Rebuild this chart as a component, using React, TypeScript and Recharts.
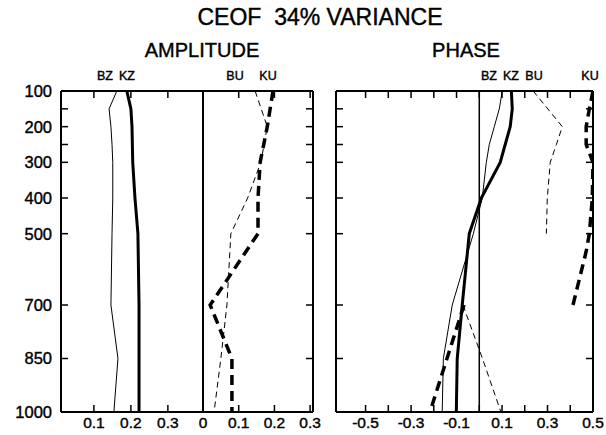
import React from 'react';
import { LineChart, Line, XAxis, YAxis, ReferenceLine } from 'recharts';

const FONT = '"Liberation Sans", Arial, Helvetica, sans-serif';

// pressure levels (hPa)
const levels = [100, 150, 200, 250, 300, 400, 500, 700, 850, 1000];
const levelLabels = ['100', '', '200', '', '300', '400', '500', '700', '850', '1000'];

// AMPLITUDE – Z
const ampBZ = [0.162, 0.141, 0.146, 0.149, 0.151, 0.151, 0.149, 0.146, 0.165, 0.154];
const ampKZ = [0.189, 0.2, 0.203, 0.204, 0.205, 0.211, 0.219, 0.222, 0.222, 0.222];
// AMPLITUDE – U
const ampULevels = [100, 200, 300, 400, 500, 700, 850, 1000];
const ampBU = [0.146, 0.18, 0.162, 0.125, 0.078, 0.067, 0.05, 0.031];
const ampKU = [0.196, 0.18, 0.16, 0.154, 0.154, 0.02, 0.081, 0.081];

// PHASE
const phaseBZ = [0.101, 0.088, 0.066, 0.044, 0.031, 0.013, -0.026, -0.119, -0.158, -0.163];
const phaseKZ = [0.141, 0.145, 0.136, 0.114, 0.092, 0.009, -0.044, -0.075, -0.097, -0.101];
const phaseBUUpperLevels = [100, 200, 250, 300, 400, 500];
const phaseBUUpper = [0.237, 0.365, 0.339, 0.312, 0.299, 0.295];
const phaseBULowerLevels = [700, 850, 1000];
const phaseBULower = [-0.072, 0.014, 0.095];
const phaseKUUpperLevels = [100, 150, 200, 250, 300, 400, 500, 550, 700];
const phaseKUUpper = [0.5, 0.484, 0.47, 0.47, 0.5, 0.497, 0.484, 0.47, 0.412];
const phaseKULowerLevels = [700, 850, 1000];
const phaseKULower = [-0.067, -0.142, -0.217];

// x ticks
const ampZTicks = [0.1, 0.2, 0.3];
const ampZLabels = ['0.1', '0.2', '0.3'];
const ampUTicks = [0, 0.1, 0.2, 0.3];
const ampULabels = ['0', '0.1', '0.2', '0.3'];
const phaseTicks = [-0.5, -0.4, -0.3, -0.2, -0.1, 0, 0.1, 0.2, 0.3, 0.4, 0.5];
const phaseLabels = ['-0.5', '', '-0.3', '', '-0.1', '', '0.1', '', '0.3', '', '0.5'];

const ampZDomain: [number, number] = [0.011, 0.395];
const ampUDomain: [number, number] = [0, 0.308];
const phaseDomain: [number, number] = [-0.63, 0.5];
const levelDomain: [number, number] = [100, 1000];

const rows = (ps: number[], vs: number[]) => ps.map((p, i) => ({ p, v: vs[i] }));
const fmt = (ticks: number[], labels: string[]) => (v: number) => {
  const i = ticks.findIndex((t) => Math.abs(t - v) < 1e-9);
  return i >= 0 ? labels[i] : '';
};
const blank = () => '';

const axisLine = { stroke: '#000', strokeWidth: 2 };
const tickLine = { stroke: '#000', strokeWidth: 1.5 };
const xTickStyle = { fill: '#000', fontSize: 15.5, fontFamily: FONT, stroke: '#000', strokeWidth: 0.4 };
const yTickStyle = { ...xTickStyle, fontSize: 16.5 };

const thin = { stroke: '#000', strokeWidth: 1, dot: false, isAnimationActive: false, type: 'linear' as const };
const thick = { stroke: '#000', strokeWidth: 3, dot: false, isAnimationActive: false, type: 'linear' as const };
const thinDash = { ...thin, strokeDasharray: '6 4' };
const thickDash = { ...thick, strokeWidth: 3.5, strokeDasharray: '10 6' };

const TOP = 90;
const BOTTOM_AXIS_H = 20;
const H = 435;
const BOTTOM_MARGIN = H - 412 - BOTTOM_AXIS_H;

function xAxes(domain: [number, number], ticks: number[], labels: string[]) {
  return [
    <XAxis
      key="b"
      xAxisId="b"
      type="number"
      orientation="bottom"
      domain={domain}
      allowDataOverflow
      ticks={ticks}
      interval={0}
      tickFormatter={fmt(ticks, labels)}
      height={BOTTOM_AXIS_H}
      tickSize={-7}
      tickMargin={12}
      axisLine={axisLine}
      tickLine={tickLine}
      tick={xTickStyle}
    />,
    <XAxis
      key="t"
      xAxisId="t"
      type="number"
      orientation="top"
      domain={domain}
      allowDataOverflow
      ticks={ticks}
      interval={0}
      tickFormatter={blank}
      height={1}
      tickSize={-7}
      axisLine={axisLine}
      tickLine={tickLine}
      tick={xTickStyle}
    />,
  ];
}

function yAxis(id: string, orientation: 'left' | 'right', width: number, withLabels: boolean) {
  return (
    <YAxis
      key={id}
      yAxisId={id}
      orientation={orientation}
      type="number"
      dataKey="p"
      domain={levelDomain}
      allowDataOverflow
      ticks={levels}
      interval={0}
      tickFormatter={withLabels ? fmt(levels, levelLabels) : blank}
      width={width}
      tickSize={-7}
      tickMargin={16}
      axisLine={axisLine}
      tickLine={tickLine}
      tick={yTickStyle}
    />
  );
}

const textBase: React.CSSProperties = {
  position: 'absolute',
  fontFamily: FONT,
  color: '#000',
  whiteSpace: 'pre',
  textAlign: 'center',
  lineHeight: 1,
  WebkitTextStroke: '0.4px #000',
};

function Label({ x, y, size, text }: { x: number; y: number; size: number; text: string }) {
  return (
    <div style={{ ...textBase, left: x - 150, top: y, width: 300, fontSize: size }}>{text}</div>
  );
}

export default function App() {
  return (
    <div style={{ position: 'absolute', left: 0, top: 0, width: 606, height: 435, background: '#fff', overflow: 'hidden' }}>
      <Label x={320} y={6} size={23} text="CEOF  34% VARIANCE" />
      <Label x={202} y={40} size={20} text="AMPLITUDE" />
      <Label x={466} y={40} size={20} text="PHASE" />

      <Label x={105} y={70} size={12.5} text="BZ" />
      <Label x={127} y={70} size={12.5} text="KZ" />
      <Label x={235} y={70} size={12.5} text="BU" />
      <Label x={268} y={70} size={12.5} text="KU" />
      <Label x={489} y={70} size={12.5} text="BZ" />
      <Label x={511} y={70} size={12.5} text="KZ" />
      <Label x={534} y={70} size={12.5} text="BU" />
      <Label x={590} y={70} size={12.5} text="KU" />

      {/* Amplitude: Z part */}
      <div style={{ position: 'absolute', left: 0, top: 0 }}>
        <LineChart width={210} height={H} layout="vertical" margin={{ top: TOP, right: 7, bottom: BOTTOM_MARGIN, left: 0 }}>
          {xAxes(ampZDomain, ampZTicks, ampZLabels)}
          {yAxis('l', 'left', 61, true)}
          <ReferenceLine xAxisId="b" yAxisId="l" x={ampZDomain[1]} stroke="#000" strokeWidth={2} />
          <Line {...thin} xAxisId="b" yAxisId="l" data={rows(levels, ampBZ)} dataKey="v" />
          <Line {...thick} xAxisId="b" yAxisId="l" data={rows(levels, ampKZ)} dataKey="v" />
        </LineChart>
      </div>

      {/* Amplitude: U part */}
      <div style={{ position: 'absolute', left: 180, top: 0 }}>
        <LineChart width={143} height={H} layout="vertical" margin={{ top: TOP, right: 0, bottom: BOTTOM_MARGIN, left: 23 }}>
          {xAxes(ampUDomain, ampUTicks, ampULabels)}
          {yAxis('r', 'right', 10, false)}
          <Line {...thinDash} xAxisId="b" yAxisId="r" data={rows(ampULevels, ampBU)} dataKey="v" />
          <Line {...thickDash} xAxisId="b" yAxisId="r" data={rows(ampULevels, ampKU)} dataKey="v" />
        </LineChart>
      </div>

      {/* Phase */}
      <div style={{ position: 'absolute', left: 320, top: 0 }}>
        <LineChart width={290} height={H} layout="vertical" margin={{ top: TOP, right: 7, bottom: BOTTOM_MARGIN, left: 10 }}>
          {xAxes(phaseDomain, phaseTicks, phaseLabels)}
          {yAxis('l', 'left', 6, false)}
          {yAxis('r', 'right', 10, false)}
          <ReferenceLine xAxisId="b" yAxisId="l" x={0} stroke="#000" strokeWidth={1.5} />
          <Line {...thin} xAxisId="b" yAxisId="l" data={rows(levels, phaseBZ)} dataKey="v" />
          <Line {...thick} xAxisId="b" yAxisId="l" data={rows(levels, phaseKZ)} dataKey="v" />
          <Line {...thinDash} xAxisId="b" yAxisId="l" data={rows(phaseBUUpperLevels, phaseBUUpper)} dataKey="v" />
          <Line {...thinDash} xAxisId="b" yAxisId="l" data={rows(phaseBULowerLevels, phaseBULower)} dataKey="v" />
          <Line {...thickDash} xAxisId="b" yAxisId="l" data={rows(phaseKUUpperLevels, phaseKUUpper)} dataKey="v" />
          <Line {...thickDash} xAxisId="b" yAxisId="l" data={rows(phaseKULowerLevels, phaseKULower)} dataKey="v" />
        </LineChart>
      </div>
    </div>
  );
}
